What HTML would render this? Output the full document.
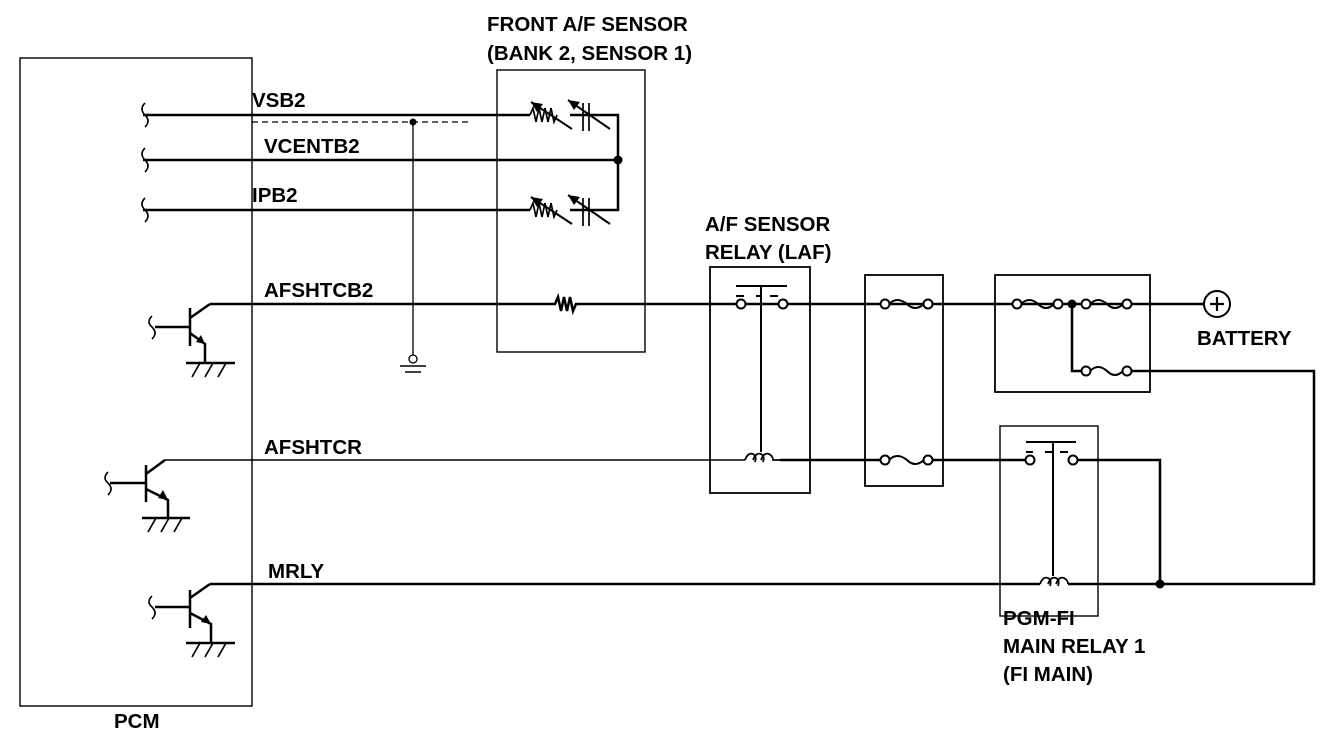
<!DOCTYPE html>
<html><head><meta charset="utf-8"><style>
html,body{margin:0;padding:0;background:#fff;}
svg{display:block;}
text{font-family:"Liberation Sans",Arial,sans-serif;font-weight:bold;font-size:20.5px;fill:#000;}
</style></head><body>
<svg width="1328" height="734" viewBox="0 0 1328 734" xmlns="http://www.w3.org/2000/svg">
<g fill="none" stroke="#000" stroke-width="1.4">
<rect x="20" y="58" width="232" height="648"/>
<rect x="497" y="70" width="148" height="282"/>
<rect x="710" y="267" width="100" height="226" stroke-width="1.8"/>
<rect x="865" y="275" width="78" height="211" stroke-width="1.8"/>
<rect x="995" y="275" width="155" height="117" stroke-width="1.8"/>
<rect x="1000" y="426" width="98" height="190"/>
</g>
<g fill="none" stroke="#000" stroke-width="2.5">
<path d="M143 115 H530"/>
<path d="M143 160 H618"/>
<path d="M143 210 H530"/>
<path d="M570 115 H618 V210 H570"/>
<path d="M145 103 q-6 6 0 12 q6 6 0 12" stroke-width="1.6"/>
<path d="M145 148 q-6 6 0 12 q6 6 0 12" stroke-width="1.6"/>
<path d="M145 198 q-6 6 0 12 q6 6 0 12" stroke-width="1.6"/>
<path d="M530 115 l3 -7 l3 14 l3 -14 l3 14 l3 -14 l3 14 l3 -14 l3 14 l3 -7" stroke-width="1.7"/>
<path d="M530 210 l3 -7 l3 14 l3 -14 l3 14 l3 -14 l3 14 l3 -14 l3 14 l3 -7" stroke-width="1.7"/>
<path d="M531 102 L572 129 M568 100 L610 129" stroke-width="2"/>
<path d="M531 197 L572 224 M568 195 L610 224" stroke-width="2"/>
<path d="M583 103 V131 M589 103 V131 M583 198 V226 M589 198 V226" stroke-width="1.7"/>
<path d="M210 304 H555 l3 -7 l3 14 l3 -14 l3 14 l3 -14 l3 14 l3 -7 H736"/>
<path d="M746 304 H779 M788 304 H881 M889 304 H924 M932 304 H1013 M1021 304 H1054 M1062 304 H1082 M1090 304 H1123 M1131 304 H1204"/>
<path d="M889 304 q8 -8 18 0 q8 8 17 0" stroke-width="2"/>
<path d="M889 460 q8 -8 18 0 q8 8 17 0" stroke-width="2"/>
<path d="M1021 304 q8 -8 17 0 q8 8 16 0" stroke-width="2"/>
<path d="M1090 304 q8 -8 17 0 q8 8 16 0" stroke-width="2"/>
<path d="M1090 371 q8 -8 17 0 q8 8 16 0" stroke-width="2"/>
<path d="M1072 304 V371 H1082"/>
<path d="M1131 371 H1314 V584 H1160"/>
<path d="M165 460 H745" stroke-width="1.5"/>
<path d="M780 460 H881 M932 460 H1026 M1078 460 H1160 V584"/>
<path d="M210 584 H1040 M1068 584 H1160"/>
<path d="M736 286 H787 M761 286 V452" stroke-width="2"/>
<path d="M736 296 H744 M756 296 H761 M770 296 H778" stroke-width="2"/>
<path d="M745 460 q3 -8 8 -6 q4 2 2 8 M753 460 q3 -8 8 -6 q4 2 2 8 M761 460 q3 -8 8 -6 q4 2 4 6 H780" stroke-width="1.8"/>
<path d="M1026 442 H1076 M1053 442 V576" stroke-width="2"/>
<path d="M1026 452 H1033 M1045 452 H1053 M1060 452 H1068" stroke-width="2"/>
<path d="M1040 584 q3 -8 8 -6 q4 2 2 8 M1048 584 q3 -8 8 -6 q4 2 2 8 M1056 584 q3 -8 8 -6 q4 2 4 6" stroke-width="1.8"/>
<path d="M190 308 V346 M190 318 L210 304 M155 327 H190 M190 333 L205 344 V363 M186 363 H235"/>
<path d="M152 316 q-6 6 0 11 q6 6 0 12" stroke-width="1.6"/>
<path d="M192 377 L200 363 M205 377 L213 363 M218 377 L226 363" stroke-width="1.7"/>
<path d="M146 465 V502 M146 474 L165 460 M110 483 H146 M146 489 L168 500 V518 M142 518 H190"/>
<path d="M108 472 q-6 6 0 11 q6 6 0 12" stroke-width="1.6"/>
<path d="M148 532 L156 518 M161 532 L169 518 M174 532 L182 518" stroke-width="1.7"/>
<path d="M190 590 V628 M190 598 L210 584 M155 607 H190 M190 613 L211 624 V643 M186 643 H235"/>
<path d="M152 596 q-6 6 0 11 q6 6 0 12" stroke-width="1.6"/>
<path d="M192 657 L200 643 M205 657 L213 643 M218 657 L226 643" stroke-width="1.7"/>
</g>
<g fill="#000">
<polygon points="205,344 196,342 201,335"/>
<polygon points="168,500 158,498 163,490"/>
<polygon points="211,624 201,622 206,615"/>
<polygon points="531,102 543,104 537,112"/>
<polygon points="568,100 580,102 574,110"/>
<polygon points="531,197 543,199 537,207"/>
<polygon points="568,195 580,197 574,205"/>
<circle cx="413" cy="122" r="3.5"/>
<circle cx="618" cy="160" r="4.5"/>
<circle cx="1072" cy="304" r="4.5"/>
<circle cx="1160" cy="584" r="4.5"/>
</g>
<g fill="none" stroke="#000" stroke-width="1.3">
<path d="M252 122 H468" stroke-dasharray="6 4"/>
<path d="M413 122 V355"/>
<circle cx="413" cy="359" r="4"/>
<path d="M400 366 H426 M405 372 H421" stroke-width="1.6"/>
</g>
<g fill="#fff" stroke="#000" stroke-width="2">
<circle cx="741" cy="304" r="4.5"/><circle cx="783" cy="304" r="4.5"/>
<circle cx="885" cy="304" r="4.5"/><circle cx="928" cy="304" r="4.5"/>
<circle cx="885" cy="460" r="4.5"/><circle cx="928" cy="460" r="4.5"/>
<circle cx="1017" cy="304" r="4.5"/><circle cx="1058" cy="304" r="4.5"/>
<circle cx="1086" cy="304" r="4.5"/><circle cx="1127" cy="304" r="4.5"/>
<circle cx="1086" cy="371" r="4.5"/><circle cx="1127" cy="371" r="4.5"/>
<circle cx="1030" cy="460" r="4.5"/><circle cx="1073" cy="460" r="4.5"/>
<circle cx="1217" cy="304" r="13"/>
</g>
<path d="M1210 304 H1224 M1217 297 V311" stroke="#000" stroke-width="2.2"/>
<text x="487" y="31">FRONT A/F SENSOR</text>
<text x="487" y="60">(BANK 2, SENSOR 1)</text>
<text x="252" y="107">VSB2</text>
<text x="264" y="153">VCENTB2</text>
<text x="252" y="202">IPB2</text>
<text x="264" y="297">AFSHTCB2</text>
<text x="264" y="454">AFSHTCR</text>
<text x="268" y="578">MRLY</text>
<text x="705" y="231">A/F SENSOR</text>
<text x="705" y="259">RELAY (LAF)</text>
<text x="1197" y="345">BATTERY</text>
<text x="1003" y="625">PGM-FI</text>
<text x="1003" y="653">MAIN RELAY 1</text>
<text x="1003" y="681">(FI MAIN)</text>
<text x="114" y="728">PCM</text>
</svg>
</body></html>
